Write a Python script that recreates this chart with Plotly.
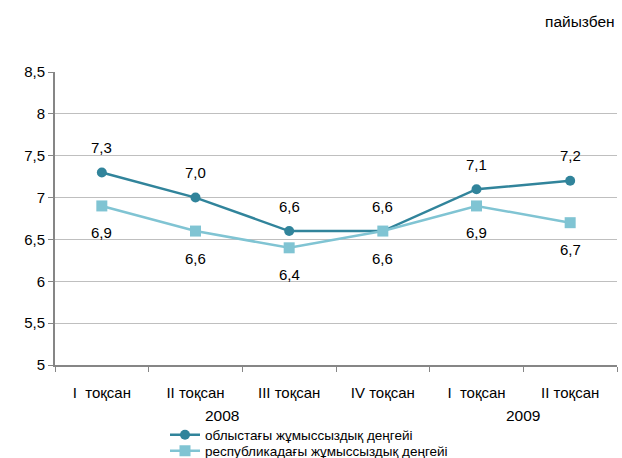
import plotly.graph_objects as go

categories = ["I  тоқсан", "II тоқсан", "III тоқсан", "IV тоқсан", "I  тоқсан", "II тоқсан"]
years = ["2008", "2009"]
oblast = [7.3, 7.0, 6.6, 6.6, 7.1, 7.2]
republic = [6.9, 6.6, 6.4, 6.6, 6.9, 6.7]
name_oblast = "облыстағы жұмыссыздық деңгейі"
name_republic = "республикадағы жұмыссыздық деңгейі"

dark = "#31849B"
light = "#80C4D3"
FONT = "Liberation Sans, Arial, sans-serif"
W, H = 622, 458

xs = list(range(len(categories)))

def fmt(v):
    return f"{v:.1f}".replace(".", ",")

fig = go.Figure()
fig.add_trace(go.Scatter(x=xs, y=oblast, name=name_oblast, mode="lines+markers",
                         line=dict(color=dark, width=2.5),
                         marker=dict(symbol="circle", size=10, color=dark),
                         legend="legend"))
fig.add_trace(go.Scatter(x=xs, y=republic, name=name_republic, mode="lines+markers",
                         line=dict(color=light, width=2.5),
                         marker=dict(symbol="square", size=11, color=light),
                         legend="legend2"))

ann = []
for x, v in zip(xs, oblast):
    ann.append(dict(x=x, y=v, text=fmt(v), showarrow=False, yshift=25,
                    font=dict(size=15, color="#000", family=FONT)))
for x, v in zip(xs, republic):
    ann.append(dict(x=x, y=v, text=fmt(v), showarrow=False, yshift=-27,
                    font=dict(size=15, color="#000", family=FONT)))
# year labels
for xpos, yr in zip([1.28, 4.5], years):
    ann.append(dict(x=xpos, y=(365 - 415) / 293, xref="x", yref="paper", text=yr,
                    showarrow=False, yanchor="middle",
                    font=dict(size=15.5, color="#000", family=FONT)))
ann.append(dict(xref="paper", yref="paper", x=1.0, y=(365 - 22) / 293,
                xanchor="right", yanchor="middle", text="пайызбен", showarrow=False,
                font=dict(size=15.5, color="#000", family=FONT)))

leg_common = dict(xref="container", yref="container", xanchor="left", yanchor="middle",
                  font=dict(size=13.5, color="#000", family=FONT),
                  bgcolor="rgba(0,0,0,0)", borderwidth=0, tracegroupgap=0)

fig.update_layout(
    width=W, height=H,
    margin=dict(l=55, r=5, t=72, b=93, autoexpand=False),
    paper_bgcolor="white", plot_bgcolor="white",
    separators=", ",
    font=dict(family=FONT, size=15, color="#000"),
    annotations=ann,
    showlegend=True,
    legend=dict(x=165 / W, y=1 - 435 / H, **leg_common),
    legend2=dict(x=165 / W, y=1 - 451 / H, **leg_common),
)
fig.update_xaxes(
    range=[-0.5, 5.5], tickvals=xs,
    ticktext=[c.replace("  ", "\u00a0\u00a0") for c in categories],
    ticks="", showgrid=False, zeroline=False,
    showline=True, linecolor="#868686", linewidth=2,
    ticklabelstandoff=13,
    tickfont=dict(size=15, color="#000", family=FONT),
    minor=dict(tickvals=[i - 0.5 for i in range(len(categories) + 1)],
               ticks="outside", ticklen=5, tickcolor="#868686", tickwidth=1, showgrid=False),
)
fig.update_yaxes(
    range=[5, 8.5], dtick=0.5, tick0=5,
    showgrid=True, gridcolor="#BFBFBF", gridwidth=1, zeroline=False,
    showline=True, linecolor="#868686", linewidth=2,
    ticks="outside", ticklen=5, tickcolor="#868686",
    tickfont=dict(size=15, color="#000", family=FONT),
)

fig.write_html("out.html",
               config={"displayModeBar": False},
               post_script="document.body.style.margin='0';document.body.style.overflow='hidden';")
